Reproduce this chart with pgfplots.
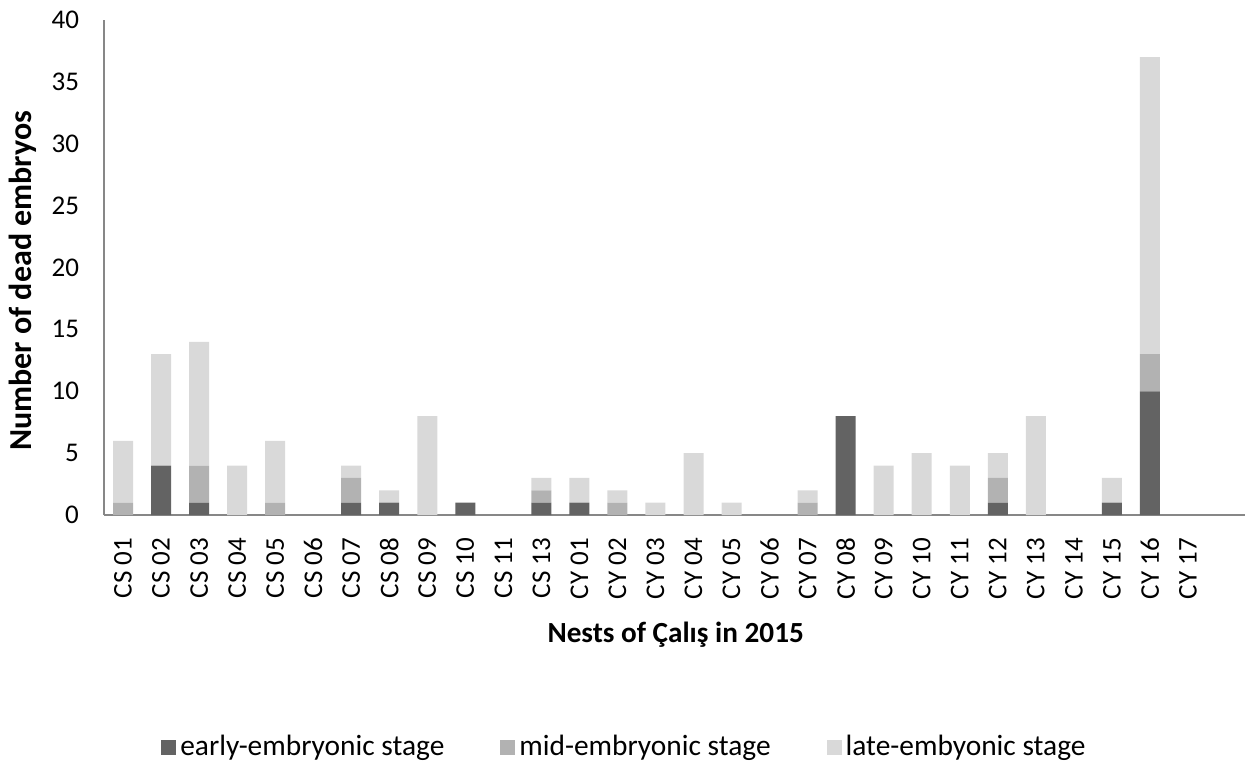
\documentclass[border=0pt]{standalone}
\usepackage{fontspec}
\setmainfont{Carlito}
\usepackage{pgfplots}
\usepackage{pgfplotstable}
\pgfplotsset{compat=1.18}
\definecolor{early}{HTML}{636363}
\definecolor{mid}{HTML}{B2B2B2}
\definecolor{late}{HTML}{D9D9D9}
\definecolor{axgray}{HTML}{878787}
\pgfplotstableread{
x early mid late
0 0 1 5
1 4 0 9
2 1 3 10
3 0 0 4
4 0 1 5
5 0 0 0
6 1 2 1
7 1 0 1
8 0 0 8
9 1 0 0
10 0 0 0
11 1 1 1
12 1 0 2
13 0 1 1
14 0 0 1
15 0 0 5
16 0 0 1
17 0 0 0
18 0 1 1
19 8 0 0
20 0 0 4
21 0 0 5
22 0 0 4
23 1 2 2
24 0 0 8
25 0 0 0
26 1 0 2
27 10 3 24
28 0 0 0
}\datatable
\begin{document}
\begin{tikzpicture}
\path[use as bounding box] (-52pt,-123pt) rectangle (572.5pt,257.5pt);
\begin{axis}[
  at={(0,0)}, anchor=south west,
  scale only axis,
  width=570.5pt, height=247.5pt,
  ybar stacked, bar width=10pt,
  xmin=-0.5, xmax=29.5,
  ymin=0, ymax=40,
  ytick={0,5,...,40},
  xtick={0,1,...,28},
  xticklabels={CS 01,CS 02,CS 03,CS 04,CS 05,CS 06,CS 07,CS 08,CS 09,CS 10,CS 11,CS 13,CY 01,CY 02,CY 03,CY 04,CY 05,CY 06,CY 07,CY 08,CY 09,CY 10,CY 11,CY 12,CY 13,CY 14,CY 15,CY 16,CY 17},
  axis x line*=bottom, axis y line*=left,
  axis line style={-, draw=axgray, line width=1pt},
  major tick length=0pt,
  /pgf/number format/assume math mode=true,
  every tick label/.append style={font=\fontsize{13.5}{16}\selectfont, text=black},
  yticklabel style={anchor=east, xshift=-9pt},
  xticklabel style={rotate=90, anchor=east, xshift=-8pt},
  xlabel={\textbf{Nests of Çalış  in 2015}},
  xlabel style={at={(rel axis cs:0.501,-0.2424)}, anchor=center, font=\fontsize{14.6}{17}\selectfont},
  ylabel={\textbf{Number of dead embryos}},
  ylabel style={at={(rel axis cs:-0.0715,0.473)}, anchor=center, rotate=0, font=\fontsize{16}{19}\selectfont},
  legend columns=3,
  legend style={draw=none, at={(rel axis cs:0.457,-0.469)}, anchor=center,
    font=\fontsize{14.7}{17}\selectfont,
    /tikz/every even column/.append style={column sep=26pt},
    /tikz/every odd column/.append style={column sep=0pt}},
  legend image code/.code={\fill[#1] (0pt,-3.75pt) rectangle (7.5pt,3.75pt);},
]
\addplot[fill=early, draw=none] table[x=x, y=early] {\datatable};
\addplot[fill=mid, draw=none] table[x=x, y=mid] {\datatable};
\addplot[fill=late, draw=none] table[x=x, y=late] {\datatable};
\legend{early-embryonic stage, mid-embryonic stage, late-embyonic stage}
\end{axis}
\end{tikzpicture}
\end{document}
